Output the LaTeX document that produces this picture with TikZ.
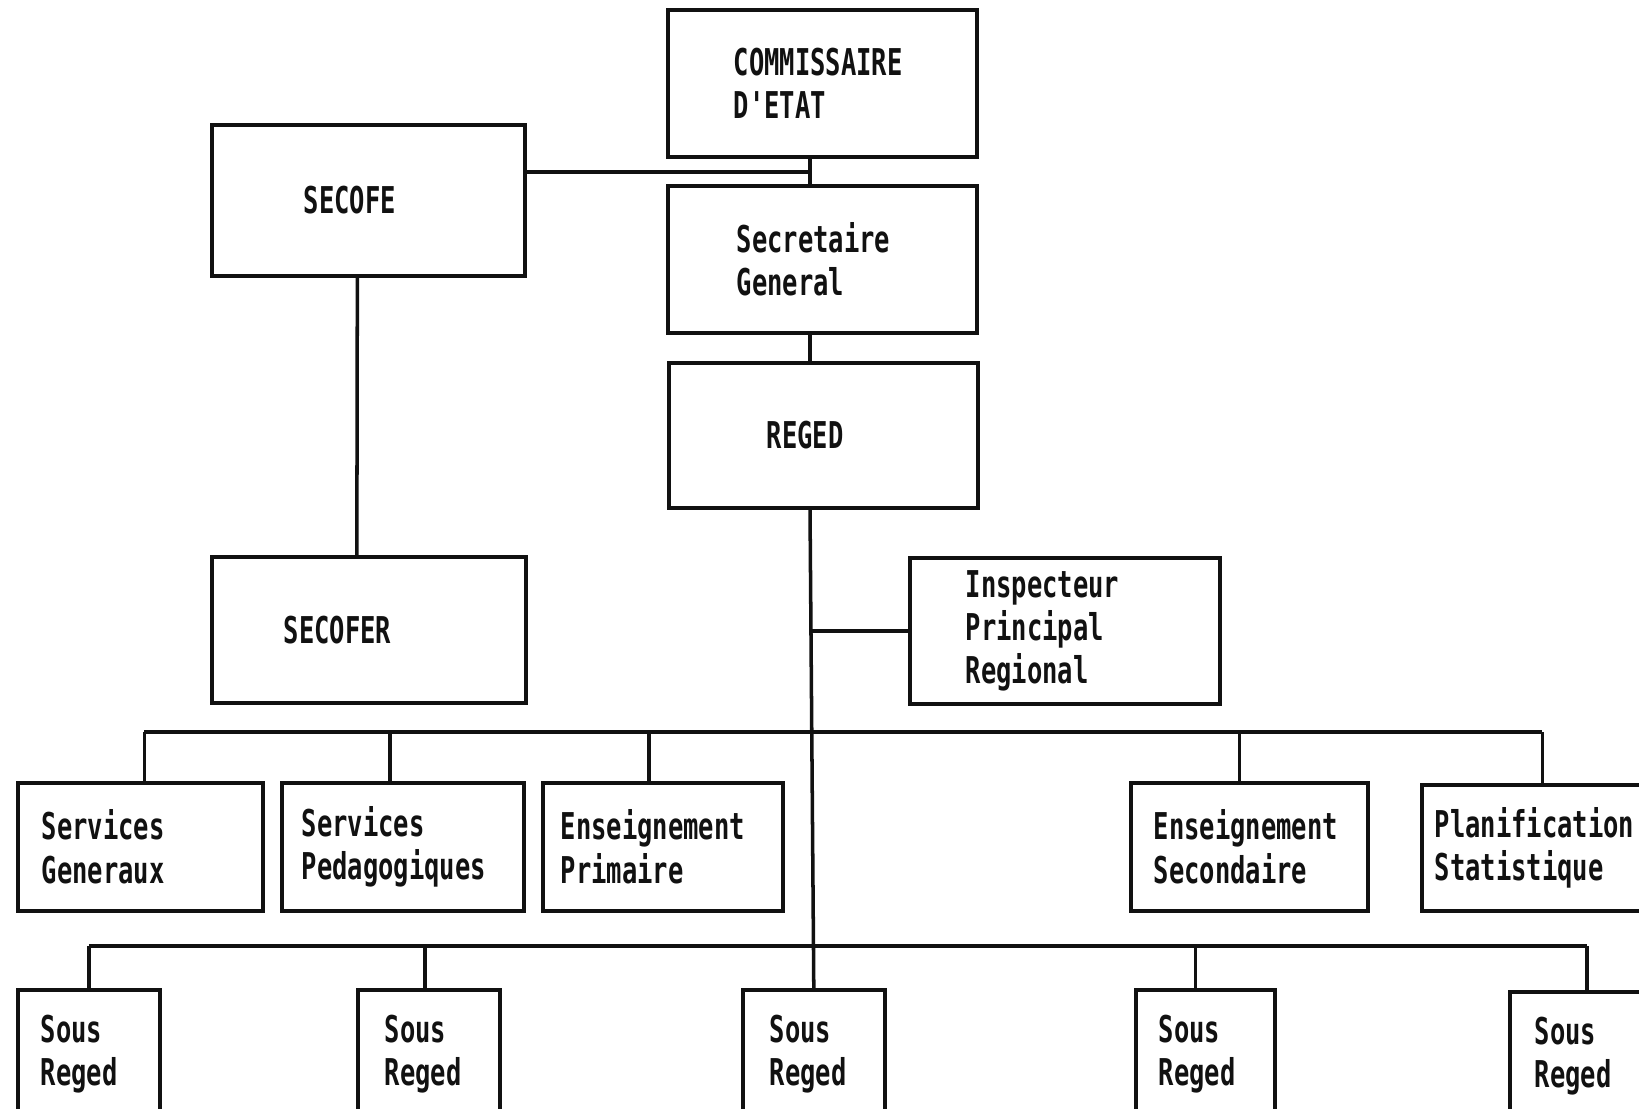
\documentclass[tikz,border=0pt]{standalone}
\usepackage{fontspec}
\usepackage{tikz}
\usetikzlibrary{positioning, calc}
\usepackage{xcolor}
\definecolor{ink}{HTML}{111111}
\newfontfamily\dotfont[FakeStretch=0.69]{DejaVu Sans Mono Bold}

\tikzset{
  orgbox/.style={draw=ink, line width=1pt, anchor=north west, align=left,
    text=ink, font=\dotfont\fontsize{10.5}{12.3}\selectfont, inner ysep=0pt},
  boxsize/.style n args={3}{minimum width=#1cm, minimum height=#2cm,
    inner xsep=#3cm, text width=#1cm-2*#3cm},
  link/.style={draw=ink, line width=1pt}
}

\begin{document}
\begin{tikzpicture}[x=0.01cm, y=-0.01cm]
        \useasboundingbox (0,0) rectangle (1639,1109);
        \clip (0,0) rectangle (1639,1109);
        % direction
        \node[orgbox, boxsize={3.09}{1.47}{0.66}] (comm) at (666,8) {COMMISSAIRE\\D'ETAT};
        \node[orgbox, boxsize={3.13}{1.51}{0.92}] (secofe) at (210,123) {SECOFE};
        \node[orgbox, boxsize={3.09}{1.47}{0.69}] (secg) at (666,184) {Secretaire\\General};
        \node[orgbox, boxsize={3.09}{1.45}{0.98}] (reged) at (667,361) {REGED};
        \node[orgbox, boxsize={3.14}{1.46}{0.72}] (secofer) at (210,555) {SECOFER};
        \node[orgbox, boxsize={3.10}{1.46}{0.56}] (insp) at (908,556) {Inspecteur\\Principal\\Regional};
        % services
        \node[orgbox, boxsize={2.45}{1.28}{0.24}] (sg) at (16,781) {Services\\Generaux};
        \node[orgbox, boxsize={2.42}{1.28}{0.20}] (sp) at (280,781) {Services\\Pedagogiques};
        \node[orgbox, boxsize={2.40}{1.28}{0.18}] (ep) at (541,781) {Enseignement\\Primaire};
        \node[orgbox, boxsize={2.37}{1.28}{0.23}] (es) at (1129,781) {Enseignement\\Secondaire};
        \node[orgbox, boxsize={2.37}{1.26}{0.13}] (plan) at (1420,783) {Planification\\Statistique};
        % sous reged
        \node[orgbox, boxsize={1.42}{1.28}{0.23}] (sr1) at (16,988) {Sous\\Reged};
        \node[orgbox, boxsize={1.42}{1.28}{0.27}] (sr2) at (356,988) {Sous\\Reged};
        \node[orgbox, boxsize={1.42}{1.28}{0.27}] (sr3) at (741,988) {Sous\\Reged};
        \node[orgbox, boxsize={1.39}{1.28}{0.23}] (sr4) at (1134,988) {Sous\\Reged};
        \node[orgbox, boxsize={1.40}{1.28}{0.25}] (sr5) at (1508,990) {Sous\\Reged};

        \coordinate (spine) at (810,0);
        \coordinate (join) at (810,172);
        \coordinate (bus) at (0,732);
        \coordinate (bus2) at (0,946);

        \draw[link] (spine |- comm.south) -- (spine |- secg.north);
        \draw[link] (secofe.east |- join) -- (join);
        \draw[link] (spine |- secg.south) -- (spine |- reged.north);
        \draw[link] (spine |- reged.south) -- (sr3.north);
        \draw[link] ([xshift=-0.11cm]secofe.south) -- ([xshift=-0.12cm]secofer.north);
        \draw[link] (spine |- insp.west) -- (insp.west);
        \foreach \n/\d in {sg/0.04, sp/-0.13, ep/-0.14, es/-0.10, plan/0.02}
          \draw[link] ([xshift=\d cm]\n.north) coordinate (t-\n) -- (t-\n |- bus);
        \draw[link] (t-sg |- bus) -- (t-plan |- bus);
        \foreach \n/\d in {sr1/0, sr2/-0.04, sr4/-0.10, sr5/0.07}
          \draw[link] ([xshift=\d cm]\n.north) coordinate (t-\n) -- (t-\n |- bus2);
        \draw[link] (t-sr1 |- bus2) -- (t-sr5 |- bus2);
\end{tikzpicture}
\end{document}
